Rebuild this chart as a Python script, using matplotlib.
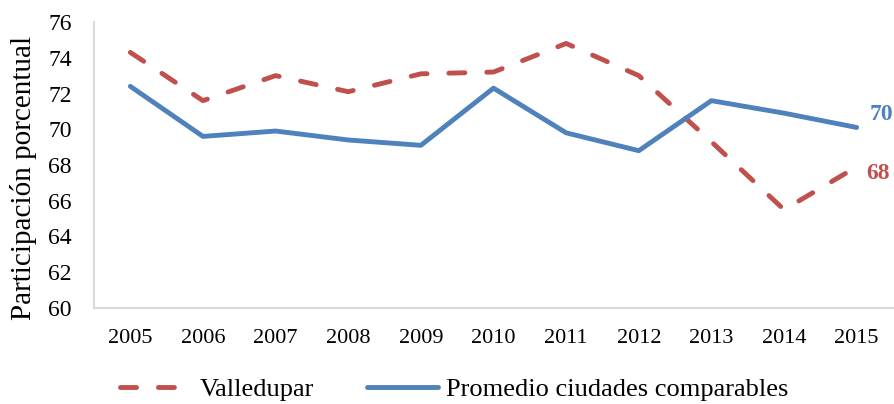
import numpy as np
import matplotlib
matplotlib.use("Agg")
import matplotlib.pyplot as plt

years = ["2005", "2006", "2007", "2008", "2009", "2010", "2011", "2012", "2013", "2014", "2015"]
valledupar = [74.3, 71.6, 73.0, 72.1, 73.1, 73.2, 74.8, 73.0, 69.3, 65.5, 67.9]
promedio = [72.4, 69.6, 69.9, 69.4, 69.1, 72.3, 69.8, 68.8, 71.6, 70.9, 70.1]
yticks = [60, 62, 64, 66, 68, 70, 72, 74, 76]

red = "#C0504D"
blue = "#4F81BD"
plt.rcParams['font.family'] = ['Liberation Serif', 'DejaVu Serif']

fig = plt.figure(figsize=(8.94, 4.04), dpi=100)
ax = fig.add_axes([94/894, 1-308/404, (893-94)/894, (308-22)/404])

x = np.arange(len(years))
ax.plot(x, valledupar, color=red, lw=3.5, linestyle=(0, (3.3, 4.5)),
        dash_capstyle='round', label="Valledupar")
ax.plot(x, promedio, color=blue, lw=3.5, solid_capstyle='round',
        label="Promedio ciudades comparables")

# etiquetas del ultimo valor
ax.annotate("{:.0f}".format(promedio[-1]), (x[-1], promedio[-1]), xytext=(9, 9),
            textcoords="offset points", color=blue, fontsize=17, fontweight='bold',
            va='center', annotation_clip=False)
ax.annotate("{:.0f}".format(valledupar[-1]), (x[-1], valledupar[-1]), xytext=(7, -5),
            textcoords="offset points", color=red, fontsize=17, fontweight='bold',
            va='center', annotation_clip=False)

ax.set_xlim(-0.5, len(years) - 0.5)
ax.set_ylim(60, 76)
ax.set_xticks(x)
ax.set_xticklabels(years)
ax.set_yticks(yticks)
ax.tick_params(length=0, labelsize=16)
ax.tick_params(axis='x', pad=15)
ax.tick_params(axis='y', labelsize=17, pad=16)
for s in ["top", "right"]:
    ax.spines[s].set_visible(False)
for s in ["left", "bottom"]:
    ax.spines[s].set_color("#D9D9D9")
    ax.spines[s].set_linewidth(1.5)
ax.set_ylabel("Participación porcentual", fontsize=21)
ax.yaxis.set_label_coords(-0.071, 0.455)

fig.legend(loc="center", bbox_to_anchor=(0.508, 1-389/404), ncol=2, frameon=False,
           fontsize=19, handlelength=2.7, columnspacing=2.0, handletextpad=0.3)

fig.savefig("out.png", dpi=100)
